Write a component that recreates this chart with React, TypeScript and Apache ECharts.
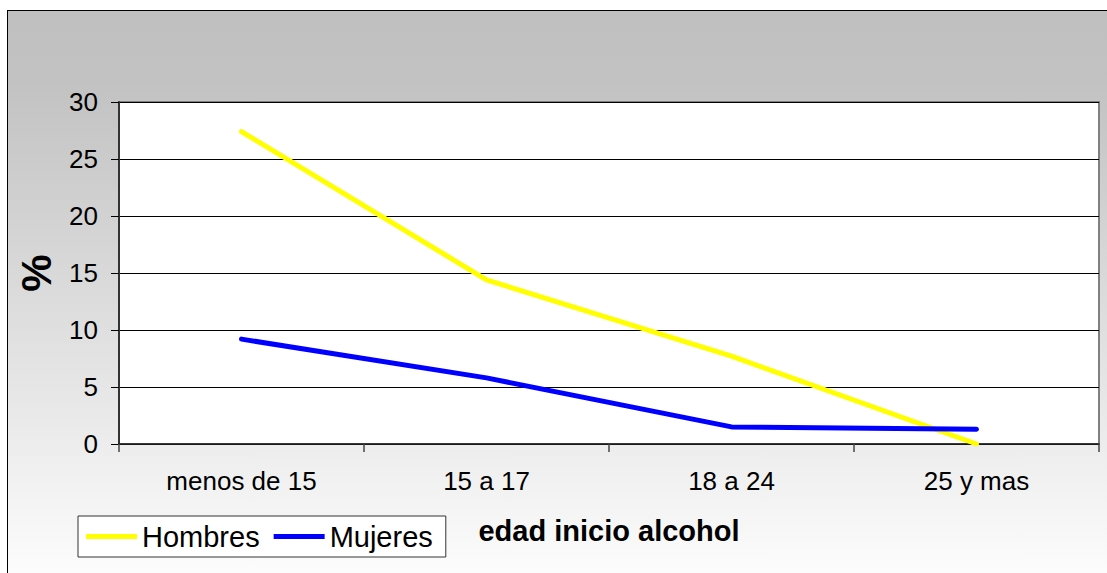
import React, { useEffect, useRef } from "react";
import * as echarts from "echarts";

const categories = ["menos de 15", "15 a 17", "18 a 24", "25 y mas"];
const hombres = [27.4, 14.4, 7.7, 0];
const mujeres = [9.2, 5.8, 1.5, 1.3];
const yTicks = { min: 0, max: 30, interval: 5 };

export default function App() {
  const ref = useRef<HTMLDivElement>(null);
  useEffect(() => {
    if (!ref.current) return;
    const chart = echarts.init(ref.current, null, { renderer: "svg" });
    const font = "'Liberation Sans', Arial, sans-serif";
    chart.setOption({
      animation: false,
      textStyle: { fontFamily: font },
      grid: {
        left: 119,
        top: 102,
        right: 8,
        bottom: 129,
        show: true,
        backgroundColor: "#ffffff",
        borderColor: "#808080",
        borderWidth: 2,
      },
      legend: {
        left: 78,
        top: 516,
        padding: [6, 13, 6, 8],
        borderColor: "#333",
        borderWidth: 1,
        backgroundColor: "#ffffff",
        borderRadius: 0,
        icon: "rect",
        itemWidth: 51,
        itemHeight: 5,
        itemGap: 14,
        textStyle: { fontSize: 29, color: "#000", fontFamily: font, lineHeight: 29, padding: [0, 0, 0, 0] },
        data: ["Hombres", "Mujeres"],
      },
      xAxis: {
        type: "category",
        data: categories,
        boundaryGap: true,
        name: "edad inicio alcohol",
        nameLocation: "middle",
        nameGap: 72,
        nameTextStyle: { fontSize: 29, fontWeight: "bold", color: "#000", fontFamily: font },
        axisLine: { show: true, lineStyle: { color: "#222", width: 1.5 } },
        axisTick: { show: true, length: 8, lineStyle: { color: "#444", width: 1.5 } },
        axisLabel: { fontSize: 26, color: "#000", margin: 24, fontFamily: font },
        splitLine: { show: false },
      },
      yAxis: {
        type: "value",
        min: yTicks.min,
        max: yTicks.max,
        interval: yTicks.interval,
        name: "%",
        nameLocation: "middle",
        nameGap: 62,
        nameRotate: 90,
        nameTextStyle: { fontSize: 42, fontWeight: "bold", color: "#000", fontFamily: font },
        axisLine: { show: true, lineStyle: { color: "#333", width: 2 } },
        axisTick: { show: true, length: 8, lineStyle: { color: "#000", width: 1 } },
        axisLabel: { fontSize: 26, color: "#000", margin: 21, fontFamily: font },
        splitLine: { show: true, lineStyle: { color: "#000", width: 1 } },
      },
      series: [
        {
          name: "Hombres",
          type: "line",
          data: hombres,
          symbol: "none",
          color: "#ffff00",
          lineStyle: { color: "#ffff00", width: 5, cap: "round", join: "round" },
        },
        {
          name: "Mujeres",
          type: "line",
          data: mujeres,
          symbol: "none",
          color: "#0000ff",
          lineStyle: { color: "#0000ff", width: 5, cap: "round", join: "round" },
        },
      ],
    });
    return () => chart.dispose();
  }, []);
  return (
    <div style={{ position: "fixed", left: 0, top: 0, width: 1107, height: 573, overflow: "hidden", background: "#ffffff" }}>
      <div
        style={{
          position: "absolute",
          left: 7,
          top: 10,
          width: 1120,
          height: 590,
          boxSizing: "border-box",
          border: "1.5px solid #000",
          background: "linear-gradient(#c0c0c0 0%, #c2c2c2 12%, #ffffff 100%)",
        }}
      />
      <div ref={ref} style={{ position: "absolute", left: 0, top: 0, width: 1107, height: 573 }} />
    </div>
  );
}
